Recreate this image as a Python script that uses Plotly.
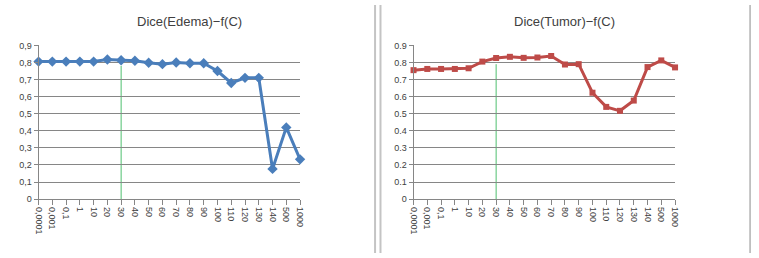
import plotly.graph_objects as go

categories = ["0,0001", "0,001", "0,1", "1", "10", "20", "30", "40", "50", "60",
              "70", "80", "90", "100", "110", "120", "130", "140", "500", "1000"]
edema = [0.805, 0.805, 0.805, 0.805, 0.805, 0.817, 0.813, 0.810, 0.798, 0.790,
         0.800, 0.795, 0.795, 0.750, 0.680, 0.710, 0.710, 0.177, 0.420, 0.233]
tumor = [0.755, 0.762, 0.762, 0.762, 0.766, 0.805, 0.826, 0.833, 0.827, 0.829,
         0.838, 0.788, 0.790, 0.623, 0.540, 0.517, 0.577, 0.773, 0.812, 0.771]
titles = ["Dice(Edema)\u2212f(C)", "Dice(Tumor)\u2212f(C)"]
ytick_vals = [0, 0.1, 0.2, 0.3, 0.4, 0.5, 0.6, 0.7, 0.8, 0.9]
ytick_left = ["0", "0,1", "0,2", "0,3", "0,4", "0,5", "0,6", "0,7", "0,8", "0,9"]
ytick_right = ["0", "0.1", "0.2", "0.3", "0.4", "0.5", "0.6", "0.7", "0.8", "0.9"]
marker_cat = "30"
marker_tops = [0.78, 0.79]

W, H = 759, 258
FONT = "Liberation Sans"
idx = list(range(len(categories)))

fig = go.Figure()
fig.add_trace(go.Scatter(x=idx, y=edema, mode="lines+markers", cliponaxis=False,
                         line=dict(color="#4a7ebb", width=3),
                         marker=dict(symbol="diamond", size=8, color="#4a7ebb"),
                         xaxis="x", yaxis="y", showlegend=False))
fig.add_trace(go.Scatter(x=idx, y=tumor, mode="lines+markers", cliponaxis=False,
                         line=dict(color="#be4b48", width=3),
                         marker=dict(symbol="square", size=6, color="#be4b48"),
                         xaxis="x2", yaxis="y2", showlegend=False))

def px_x(p):
    return p / W

def px_y(p):
    return 1 - p / H

ydom = [px_y(202), px_y(42)]
common_x = dict(range=[0, len(categories) - 1], tickmode="array", tickvals=idx,
                ticktext=categories, tickangle=90, ticks="outside", ticklen=5,
                tickcolor="#868686", showline=True, linecolor="#868686",
                showgrid=False, zeroline=False,
                tickfont=dict(family=FONT, size=9, color="#404040"))
common_y = dict(range=[0, 0.9], tickmode="array", tickvals=ytick_vals,
                ticks="outside", ticklen=4, tickcolor="#868686", showline=True,
                linecolor="#868686", showgrid=True, gridcolor="#868686",
                gridwidth=1, zeroline=False, domain=ydom,
                tickfont=dict(family=FONT, size=9, color="#404040"))

fig.update_layout(
    width=W, height=H, margin=dict(l=0, r=0, t=0, b=0),
    paper_bgcolor="white", plot_bgcolor="white",
    xaxis=dict(common_x, domain=[px_x(34), px_x(299)], anchor="y"),
    yaxis=dict(common_y, ticktext=ytick_left, anchor="x"),
    xaxis2=dict(common_x, domain=[px_x(414), px_x(679)], anchor="y2"),
    yaxis2=dict(common_y, ticktext=ytick_right, anchor="x2"),
)

mi = categories.index(marker_cat)
for k, (xr, yr) in enumerate([("x", "y"), ("x2", "y2")]):
    fig.add_shape(type="line", xref=xr, yref=yr, x0=mi, x1=mi, y0=0,
                  y1=marker_tops[k], line=dict(color="#4fbf6f", width=1),
                  layer="below")

fig.add_annotation(text=titles[0], xref="paper", yref="paper", x=px_x(187),
                   y=px_y(17), showarrow=False, xanchor="center", yanchor="middle",
                   font=dict(family=FONT, size=13, color="#404040"))
fig.add_annotation(text=titles[1], xref="paper", yref="paper", x=px_x(567),
                   y=px_y(17), showarrow=False, xanchor="center", yanchor="middle",
                   font=dict(family=FONT, size=13, color="#404040"))

for xp, col, wd in [(375, "#c4c4c4", 2), (380.5, "#c4c4c4", 2), (755, "#8a8a8a", 1)]:
    fig.add_shape(type="line", xref="paper", yref="paper", x0=px_x(xp), x1=px_x(xp),
                  y0=0, y1=1, line=dict(color=col, width=wd))

fig.write_html("out.html")
